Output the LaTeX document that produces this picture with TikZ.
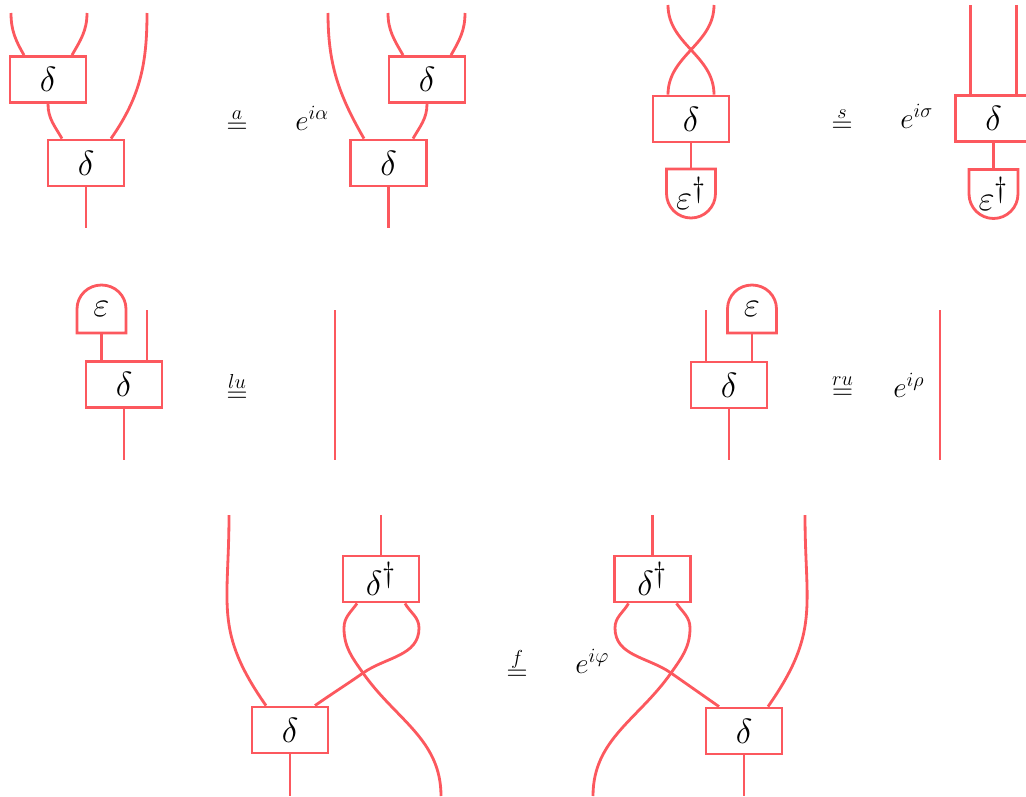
\documentclass[tikz,border=0pt]{standalone}
\usetikzlibrary{calc}
\definecolor{wirered}{RGB}{252,88,94}

\begin{document}
\begin{tikzpicture}[x=0.025cm,y=-0.025cm,
  every node/.style={font=\Huge},
  wire/.style={draw=wirered,line width=2pt},
  box/.style={draw=wirered,line width=2pt,minimum width=1.9cm,minimum height=1.15cm,inner sep=0pt},
  counit/.style={minimum width=1.225cm,minimum height=1.225cm,inner sep=0pt},
  txt/.style={inner sep=0pt,font=\huge}]
  \useasboundingbox (0,0) rectangle (1026,796);
  \clip (0,0) rectangle (1026,796);

  % associativity
  \node[box] (d1) at (48,79.5) {$\delta$};
  \node[box] (d2) at (86,163) {$\delta$};
  \coordinate (a1) at (11,13);
  \coordinate (a2) at (87,13);
  \coordinate (a3) at (147,13);
  \coordinate (a4) at (86,228);
  \draw[wire] ($(d1.north)+(-24,0)$) to[out=120,in=-90] (a1);
  \draw[wire] ($(d1.north)+(24,0)$) to[out=60,in=-90] (a2);
  \draw[wire] (d1.south) to[out=-90,in=120] ($(d2.north)+(-24,0)$);
  \draw[wire] ($(d2.north)+(25,0)$) to[out=55,in=-90] (a3);
  \draw[wire] (d2.south) -- (a4);
  \node[txt,anchor=base] (eqa) at (237,133) {$\stackrel{a}{=}$};
  \node[txt,anchor=base west] (pa) at (295,130) {$e^{i\alpha}$};
  \node[box] (d3) at (427,79.5) {$\delta$};
  \node[box] (d4) at (388.5,163) {$\delta$};
  \coordinate (b1) at (328,13);
  \coordinate (b2) at (388,13);
  \coordinate (b3) at (465,13);
  \coordinate (b4) at (388.5,228);
  \draw[wire] ($(d4.north)+(-24.5,0)$) to[out=120,in=-90] (b1);
  \draw[wire] ($(d3.north)+(-24,0)$) to[out=120,in=-90] (b2);
  \draw[wire] ($(d3.north)+(24,0)$) to[out=60,in=-90] (b3);
  \draw[wire] (d3.south) to[out=-90,in=60] ($(d4.north)+(24.5,0)$);
  \draw[wire] (d4.south) -- (b4);

  % symmetry
  \node[box] (s1) at (691,119) {$\delta$};
  \node[counit] (es1) at (691,193.5) {$\varepsilon^\dagger$};
  \coordinate (c1) at (668,5);
  \coordinate (c2) at (714,5);
  \draw[wire] ($(s1.north)+(-23,0)$) to[out=90,in=-90] (c2);
  \draw[wire] ($(s1.north)+(23,0)$) to[out=90,in=-90] (c1);
  \draw[wire] (s1.south) -- (es1.north);
  \draw[wire,shift={(es1.center)}] (-24.5,-24.5) -- (24.5,-24.5) -- (24.5,0)
    .. controls (24.5,13.5) and (13.5,24.5) .. (0,24.5)
    .. controls (-13.5,24.5) and (-24.5,13.5) .. (-24.5,0) -- cycle;
  \node[txt,anchor=base] (eqs) at (842,132) {$\stackrel{s}{=}$};
  \node[txt,anchor=base west] (ps) at (900,128) {$e^{i\sigma}$};
  \node[box] (s2) at (993.5,118.5) {$\delta$};
  \node[counit] (es2) at (993.5,194) {$\varepsilon^\dagger$};
  \coordinate (c3) at (970.5,5);
  \coordinate (c4) at (1016.5,5);
  \draw[wire] (c3) -- (c3 |- s2.north);
  \draw[wire] (c4) -- (c4 |- s2.north);
  \draw[wire] (s2.south) -- (es2.north);
  \draw[wire,shift={(es2.center)}] (-24.5,-24.5) -- (24.5,-24.5) -- (24.5,0)
    .. controls (24.5,13.5) and (13.5,24.5) .. (0,24.5)
    .. controls (-13.5,24.5) and (-24.5,13.5) .. (-24.5,0) -- cycle;

  % left unit
  \node[counit] (eu1) at (101.5,309) {$\varepsilon$};
  \draw[wire,shift={(eu1.center)}] (-24.5,24) -- (24.5,24) -- (24.5,0)
    .. controls (24.5,-13.5) and (13.5,-24) .. (0,-24)
    .. controls (-13.5,-24) and (-24.5,-13.5) .. (-24.5,0) -- cycle;
  \node[box] (lu1) at (124,384.5) {$\delta$};
  \coordinate (e1) at (147,310);
  \coordinate (e2) at (124,460);
  \coordinate (e3) at (335,310);
  \coordinate (e4) at (335,460);
  \draw[wire] (eu1.south) -- (eu1.south |- lu1.north);
  \draw[wire] (e1) -- (e1 |- lu1.north);
  \draw[wire] (lu1.south) -- (e2);
  \node[txt,anchor=base] (eqlu) at (237,402) {$\stackrel{lu}{=}$};
  \draw[wire] (e3) -- (e4);

  % right unit
  \node[counit] (eu2) at (752,309) {$\varepsilon$};
  \draw[wire,shift={(eu2.center)}] (-24.5,24) -- (24.5,24) -- (24.5,0)
    .. controls (24.5,-13.5) and (13.5,-24) .. (0,-24)
    .. controls (-13.5,-24) and (-24.5,-13.5) .. (-24.5,0) -- cycle;
  \node[box] (ru1) at (729,385) {$\delta$};
  \coordinate (r1) at (706,310);
  \coordinate (r2) at (729,460);
  \coordinate (r3) at (940,310);
  \coordinate (r4) at (940,460);
  \draw[wire] (eu2.south) -- (eu2.south |- ru1.north);
  \draw[wire] (r1) -- (r1 |- ru1.north);
  \draw[wire] (ru1.south) -- (r2);
  \node[txt,anchor=base] (eqru) at (842.5,399) {$\stackrel{ru}{=}$};
  \node[txt,anchor=base west] (pr) at (893,397) {$e^{i\rho}$};
  \draw[wire] (r3) -- (r4);

  % frobenius
  \node[box] (f1) at (381,579) {$\delta^\dagger$};
  \node[box] (f2) at (290,730) {$\delta$};
  \coordinate (g1) at (381,515);
  \coordinate (g2) at (229,515);
  \coordinate (g3) at (441,796);
  \coordinate (g4) at (290,796);
  \coordinate (gl) at (344,628);
  \coordinate (gr) at (419,628);
  \coordinate (gx) at (363,673);
  \draw[wire] (g1) -- (f1.north);
  \draw[wire] (g2) to[out=-90,in=125,looseness=1.2] ($(f2.north)+(-24,0)$);
  \draw[wire] ($(f1.south)+(-24,0)$) to[out=-125,in=90] (gl) to[out=-90,in=125] (gx)
    to[out=-55,in=90] (g3);
  \draw[wire] ($(f1.south)+(24,0)$) to[out=-60,in=90] (gr) to[out=-90,in=35] (gx)
    to[out=-145,in=35] ($(f2.north)+(25,0)$);
  \draw[wire] (f2.south) -- (g4);
  \node[txt,anchor=base] (eqf) at (517,680) {$\stackrel{f}{=}$};
  \node[txt,anchor=base west] (pf) at (575,673) {$e^{i\varphi}$};
  \node[box] (f3) at (652.5,579) {$\delta^\dagger$};
  \node[box] (f4) at (744,731) {$\delta$};
  \coordinate (h1) at (652.5,515);
  \coordinate (h2) at (805,515);
  \coordinate (h3) at (593,796);
  \coordinate (h4) at (744,796);
  \coordinate (hl) at (615,628);
  \coordinate (hr) at (690,628);
  \coordinate (hx) at (671,673);
  \draw[wire] (h1) -- (f3.north);
  \draw[wire] (h2) to[out=-90,in=55,looseness=1.2] ($(f4.north)+(24,0)$);
  \draw[wire] ($(f3.south)+(24,0)$) to[out=-55,in=90] (hr) to[out=-90,in=55] (hx)
    to[out=-125,in=90] (h3);
  \draw[wire] ($(f3.south)+(-24,0)$) to[out=-120,in=90] (hl) to[out=-90,in=145] (hx)
    to[out=-35,in=145] ($(f4.north)+(-25,0)$);
  \draw[wire] (f4.south) -- (h4);
\end{tikzpicture}
\end{document}
